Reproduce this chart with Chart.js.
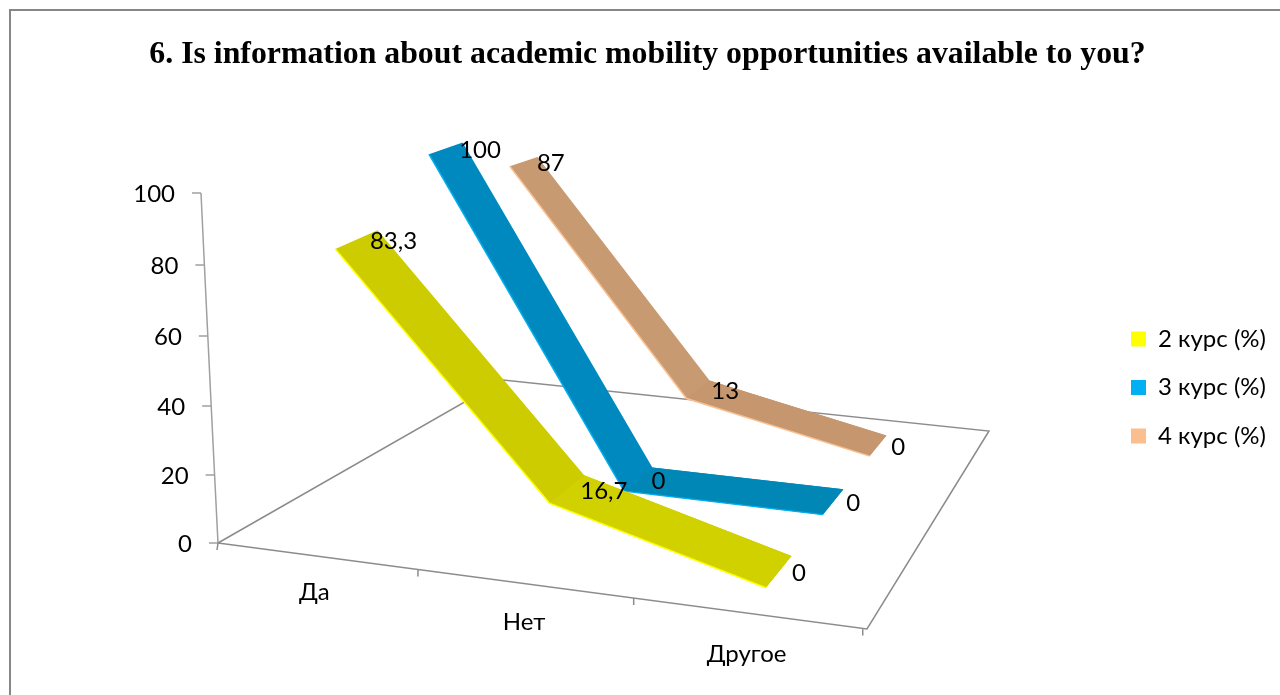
<!DOCTYPE html>
<html>
<head>
<meta charset="utf-8">
<title>Academic mobility</title>
<script src="https://cdn.jsdelivr.net/npm/chart.js@4"></script>
<style>
  html, body { margin: 0; padding: 0; background: #fff; overflow: hidden; }
  canvas { display: block; }
</style>
</head>
<body>
<canvas id="myChart" width="1280" height="695"></canvas>
<script>
const categories = ['Да', 'Нет', 'Другое'];
const seriesNames = ['2 курс (%)', '3 курс (%)', '4 курс (%)'];
const values2 = [83.3, 16.7, 0];
const values3 = [100, 0, 0];
const values4 = [87, 13, 0];
const yTicks = [0, 20, 40, 60, 80, 100];
const titleText = '6. Is information about academic mobility opportunities available to you?';

const allValues = [values2, values3, values4];
const edgeColors = ['#ffff00', '#00b0f0', '#fbbf8f'];
const fillColors = ['#cccc00', '#0089bf', '#c89a72'];
const fillColors2 = ['#d1d100', '#0087b6', '#c6976f'];
const labelFont = '24px Lato';

// floor of the 3D box, from unit square to screen
const corners = [[218, 543], [867, 629], [989, 431], [503, 380]];
function makeFloor(p) {
  const dx1 = p[1][0] - p[2][0], dx2 = p[3][0] - p[2][0], sx = p[0][0] - p[1][0] + p[2][0] - p[3][0];
  const dy1 = p[1][1] - p[2][1], dy2 = p[3][1] - p[2][1], sy = p[0][1] - p[1][1] + p[2][1] - p[3][1];
  const det = dx1 * dy2 - dx2 * dy1;
  const g = (sx * dy2 - dx2 * sy) / det;
  const h = (dx1 * sy - sx * dy1) / det;
  const a = p[1][0] - p[0][0] + g * p[1][0], b = p[3][0] - p[0][0] + h * p[3][0];
  const d = p[1][1] - p[0][1] + g * p[1][1], e = p[3][1] - p[0][1] + h * p[3][1];
  return (u, w) => {
    const q = g * u + h * w + 1;
    return { x: (a * u + b * w + p[0][0]) / q, y: (d * u + e * w + p[0][1]) / q };
  };
}
const floor = makeFloor(corners);

// u = along categories, w = depth, v = value (0-100)
function project(u, w, v) {
  const f = floor(u, w);
  return { x: f.x + (-17 - 8 * w) * v / 100, y: f.y + (-350 + 78 * w) * v / 100 };
}
// value axis bows a little because of the perspective
function axisPoint(t) {
  const p = project(0, 0, t);
  return { x: p.x, y: p.y + 12 * (t / 100) * (1 - t / 100) };
}

const catU = [[0.163, 0.495, 0.826], [0.163, 0.48, 0.823], [0.163, 0.48, 0.822]];
const seriesW = [1 / 6, 0.5, 5 / 6];
const halfW = 0.068;
const GAP = { x: NaN, y: NaN };

function ribbon(s, from, to) {
  const front = [], back = [];
  for (let i = from; i <= to; i++) {
    front.push(project(catU[s][i], seriesW[s] - halfW, allValues[s][i]));
    back.unshift(project(catU[s][i], seriesW[s] + halfW, allValues[s][i]));
  }
  return front.concat(back);
}

// box lines and tick marks
const boxLines = [];
[0, 1, 2, 3, 0].forEach(i => boxLines.push({ x: corners[i][0], y: corners[i][1] }));
boxLines.push(GAP);
categories.forEach((c, i) => {
  const t = project((i + 1) / 3 - 0.006, 0, 0);
  boxLines.push({ x: t.x, y: t.y }, { x: t.x, y: t.y + 7 }, GAP);
});
const o = project(0, 0, 0);
boxLines.push({ x: o.x - 1, y: o.y + 7 }, o, GAP);

const axisLines = yTicks.map(axisPoint);
axisLines.push(GAP);
yTicks.forEach(t => {
  const p = axisPoint(t);
  axisLines.push({ x: p.x - 9, y: p.y }, p, GAP);
});

const datasets = [];
for (let s = 2; s >= 0; s--) {
  datasets.push({
    label: seriesNames[s] + ' edge',
    data: ribbon(s, 0, 2).slice(0, 3),
    borderColor: edgeColors[s],
    borderWidth: 1.5,
    fill: false,
    order: s * 3
  });
  datasets.push({
    label: seriesNames[s] + ' right',
    data: ribbon(s, 1, 2),
    backgroundColor: fillColors2[s],
    borderWidth: 0,
    fill: 'shape',
    order: s * 3 + 1
  });
  datasets.push({
    label: seriesNames[s],
    data: ribbon(s, 0, 2),
    backgroundColor: fillColors[s],
    borderColor: edgeColors[s],
    borderWidth: 0,
    fill: 'shape',
    order: s * 3 + 2
  });
}
datasets.push({ label: 'box', data: boxLines, borderColor: '#8c8c8c', borderWidth: 1.5, fill: false, order: 20 });
datasets.push({ label: 'axis', data: axisLines, borderColor: '#a0a0a0', borderWidth: 1.5, fill: false, order: 21 });

const texts3d = {
  id: 'texts3d',
  beforeDraw: chart => {
    const ctx = chart.ctx;
    ctx.save();
    ctx.strokeStyle = '#868686';
    ctx.lineWidth = 2;
    ctx.beginPath();
    ctx.moveTo(10, 695);
    ctx.lineTo(10, 10);
    ctx.lineTo(1280, 10);
    ctx.stroke();
    ctx.restore();
  },
  afterDatasetsDraw: chart => {
    const ctx = chart.ctx;
    const sx = chart.scales.x, sy = chart.scales.y;
    ctx.save();
    ctx.fillStyle = '#000';
    ctx.font = labelFont;
    ctx.textBaseline = 'middle';
    // value axis
    ctx.textAlign = 'right';
    yTicks.forEach(t => {
      const p = axisPoint(t);
      ctx.fillText(String(t), sx.getPixelForValue(p.x - 26), sy.getPixelForValue(p.y + 1));
    });
    // categories
    ctx.textAlign = 'center';
    categories.forEach((c, i) => {
      const u = (i + 0.5) / 3;
      const p = project(u, 0, 0);
      ctx.fillText(c, sx.getPixelForValue(p.x - 4), sy.getPixelForValue(p.y + 35 + 7 * u));
    });
    // data labels
    ctx.textAlign = 'left';
    allValues.forEach((vals, s) => {
      vals.forEach((v, i) => {
        const p = project(catU[s][i], seriesW[s], v);
        const txt = String(v).replace('.', ',');
        ctx.fillText(txt, sx.getPixelForValue(p.x + 13), sy.getPixelForValue(p.y + 2));
      });
    });
    ctx.restore();
  },
  afterLayout: chart => {
    // legend sits over the chart area, right side
    const l = chart.legend;
    l.left = 1106.5;
    l.right = 1280;
    l.top = 302.5;
    l.bottom = 695;
    l.adjustHitBoxes();
  }
};

const myChart = new Chart(document.getElementById('myChart').getContext('2d'), {
  type: 'scatter',
  data: { datasets: datasets },
  options: {
    responsive: false,
    animation: false,
    events: [],
    layout: { padding: { left: 15 } },
    elements: { point: { radius: 0 }, line: { tension: 0 } },
    datasets: { scatter: { showLine: true } },
    scales: {
      x: { type: 'linear', min: 15, max: 1280, display: false },
      y: { type: 'linear', min: 75, max: 695, reverse: true, display: false }
    },
    plugins: {
      title: {
        display: true,
        text: titleText,
        color: '#000',
        font: { family: "'Liberation Serif'", size: 31.8, weight: 'bold', lineHeight: 1.2 },
        padding: { top: 36, bottom: 0.84 }
      },
      tooltip: { enabled: false },
      legend: {
        display: true,
        position: 'chartArea',
        align: 'start',
        labels: {
          boxWidth: 15,
          boxHeight: 15,
          padding: 24.5,
          color: '#000',
          font: { family: 'Lato', size: 24 },
          generateLabels: () => seriesNames.map((n, i) => ({
            text: n,
            fillStyle: edgeColors[i],
            strokeStyle: edgeColors[i],
            lineWidth: 0,
            hidden: false,
            datasetIndex: i
          }))
        }
      }
    }
  },
  plugins: [texts3d]
});
</script>
</body>
</html>
